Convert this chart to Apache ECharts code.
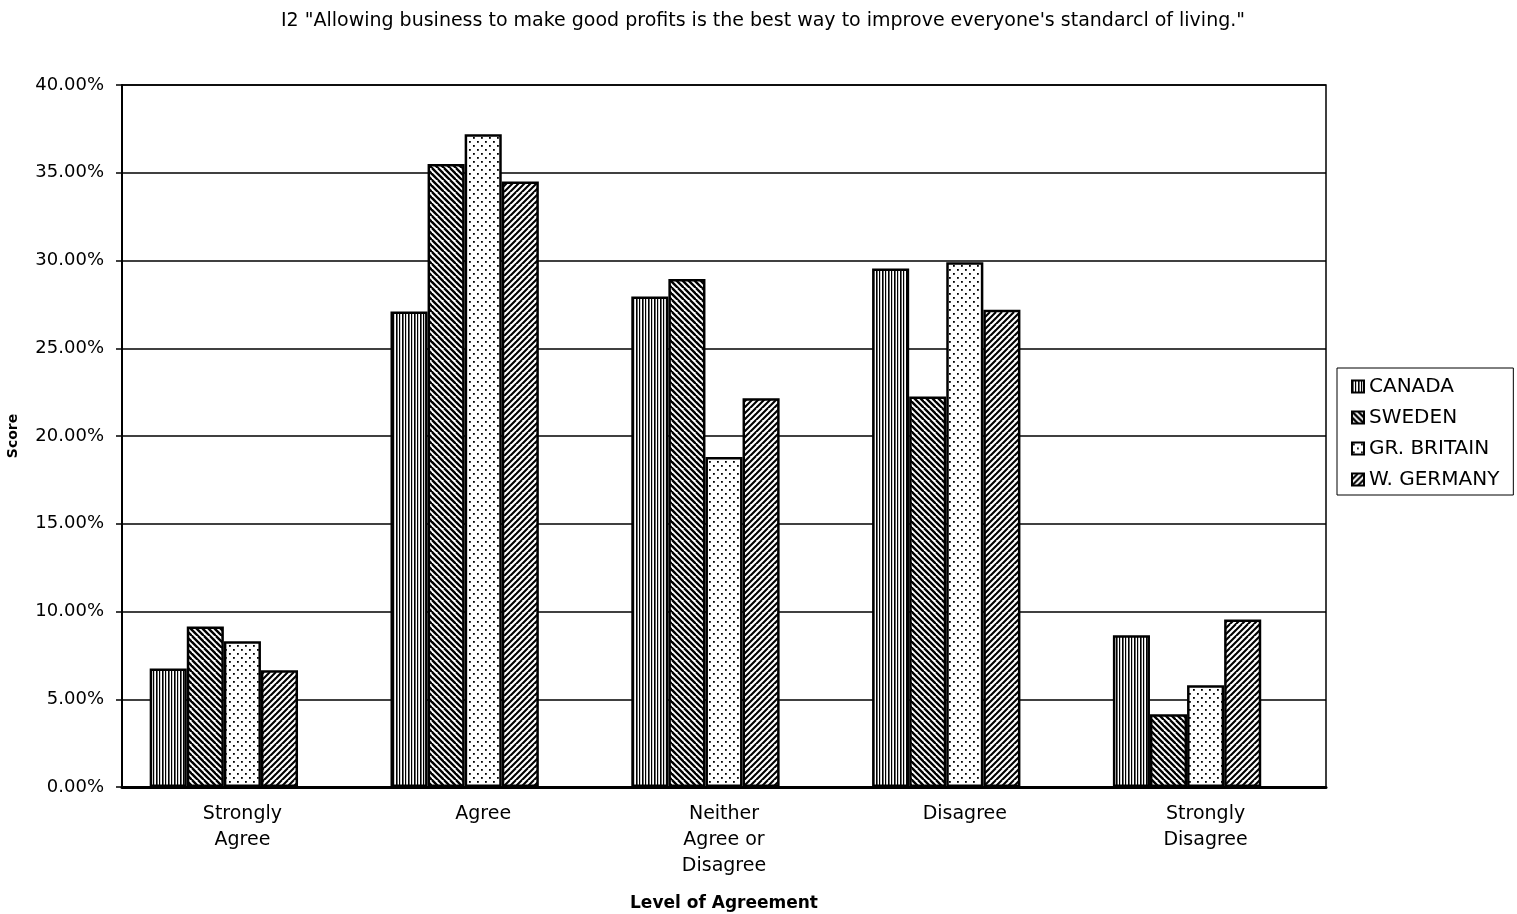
<!DOCTYPE html>
<html><head><meta charset="utf-8">
<script src="https://cdn.jsdelivr.net/npm/echarts@6/dist/echarts.min.js"></script>
<style>html,body{margin:0;padding:0;background:#fff}#c{width:1517px;height:914px}</style>
</head><body><div id="c"></div>
<script>
const categories = ['Strongly\nAgree', 'Agree', 'Neither\nAgree or\nDisagree', 'Disagree', 'Strongly\nDisagree'];
const seriesNames = ['CANADA', 'SWEDEN', 'GR. BRITAIN', 'W. GERMANY'];
const canada = [6.75, 27.1, 27.95, 29.55, 8.65];
const sweden = [9.15, 35.5, 28.95, 22.25, 4.15];
const britain = [8.3, 37.2, 18.8, 29.9, 5.8];
const germany = [6.65, 34.5, 22.15, 27.2, 9.55];
const emptySlot = [null, null, null, null, null];
const yTicks = [0, 5, 10, 15, 20, 25, 30, 35, 40];

const FONT = 'DejaVu Sans, Liberation Sans, Arial';

function pattern(kind) {
  const c = document.createElement('canvas');
  const s = (kind === 'bs' || kind === 'fs') ? 12 : (kind === 'v' ? 6 : 8);
  c.width = s; c.height = s;
  const g = c.getContext('2d');
  g.fillStyle = '#fff'; g.fillRect(0, 0, s, s);
  g.strokeStyle = '#000'; g.fillStyle = '#000';
  if (kind === 'v') {
    g.fillRect(0, 0, 1.6, s); g.fillRect(3, 0, 1.2, s);
  } else if (kind === 'bs') {
    g.lineWidth = 2.4;
    for (let k = -2 * s; k <= 2 * s; k += 6) { g.beginPath(); g.moveTo(k, 0); g.lineTo(k + 2 * s, 2 * s); g.stroke(); }
  } else if (kind === 'fs') {
    g.lineWidth = 2.1;
    for (let k = -s; k <= 3 * s; k += 6) { g.beginPath(); g.moveTo(k, 0); g.lineTo(k - 2 * s, 2 * s); g.stroke(); }
  } else if (kind === 'dot') {
    g.fillRect(1, 1, 1.8, 1.8); g.fillRect(5, 5, 1.8, 1.8);
  }
  return { image: c, repeat: 'repeat' };
}

const pats = [pattern('v'), pattern('bs'), pattern('dot'), pattern('fs')];
const datas = [canada, sweden, britain, germany];

const chart = echarts.init(document.getElementById('c'), null, { renderer: 'canvas' });
const series = seriesNames.map((n, i) => ({
  name: n, type: 'bar', data: datas[i],
  barGap: '0%', barCategoryGap: '23%',
  itemStyle: { color: pats[i], borderColor: '#000', borderWidth: 2.5 }
}));
series.push({ name: 'blank', type: 'bar', data: emptySlot, barGap: '0%', barCategoryGap: '23%', silent: true });

chart.setOption({
  animation: false,
  backgroundColor: '#fff',
  title: {
    text: 'I2 "Allowing business to make good profits is the best way to improve everyone\'s standarcl of living."',
    left: 758, top: 7, textAlign: 'center',
    textStyle: { fontFamily: FONT, fontSize: 19, fontWeight: 'normal', color: '#000' }
  },
  legend: {
    orient: 'vertical', left: 1337, top: 368,
    borderColor: '#000', borderWidth: 1, padding: [8, 14, 5, 14],
    itemWidth: 12, itemHeight: 12, itemGap: 10, icon: 'rect',
    textStyle: { fontFamily: FONT, fontSize: 20, color: '#000', lineHeight: 21 },
    data: seriesNames
  },
  grid: {
    left: 122, right: 191, top: 85, bottom: 127,
    containLabel: false, outerBoundsMode: 'none',
    show: true, borderColor: '#000', borderWidth: 1.5, backgroundColor: 'transparent'
  },
  xAxis: {
    type: 'category', data: categories,
    name: 'Level of Agreement', nameLocation: 'middle', nameGap: 108,
    nameTextStyle: { fontFamily: FONT, fontSize: 17, fontWeight: 'bold', color: '#000' },
    axisLine: { lineStyle: { color: '#000', width: 3 } },
    axisTick: { show: false },
    axisLabel: { fontFamily: FONT, fontSize: 19, color: '#000', lineHeight: 26, margin: 14 }
  },
  yAxis: {
    type: 'value', min: 0, max: 40, interval: 5,
    name: 'Score', nameLocation: 'middle', nameGap: 102, nameRotate: 90,
    nameTextStyle: { fontFamily: FONT, fontSize: 14, fontWeight: 'bold', color: '#000' },
    axisLine: { show: true, lineStyle: { color: '#000', width: 2 } },
    axisTick: { show: true, inside: false, length: 6, lineStyle: { color: '#000', width: 1.5 } },
    splitLine: { lineStyle: { color: '#000', width: 1.5 } },
    axisLabel: {
      fontFamily: FONT, fontSize: 18, color: '#000', margin: 18,
      formatter: v => yTicks.includes(v) ? v.toFixed(2) + '%' : ''
    }
  },
  series: series
});
</script></body></html>
